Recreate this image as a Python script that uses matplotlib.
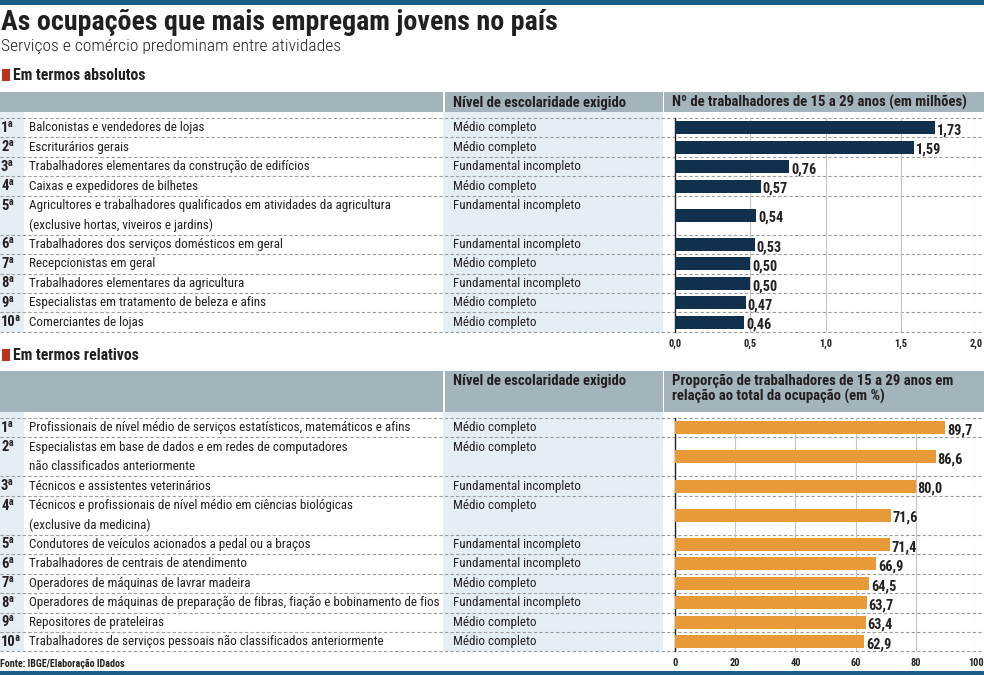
import matplotlib
matplotlib.use('Agg')
import matplotlib.pyplot as plt
from matplotlib import font_manager
from matplotlib.patches import Rectangle

# ---- dados ----
abs_rank = ['1ª', '2ª', '3ª', '4ª', '5ª', '6ª', '7ª', '8ª', '9ª', '10ª']
abs_ocup = [
    'Balconistas e vendedores de lojas',
    'Escriturários gerais',
    'Trabalhadores elementares da construção de edifícios',
    'Caixas e expedidores de bilhetes',
    'Agricultores e trabalhadores qualificados em atividades da agricultura\n(exclusive hortas, viveiros e jardins)',
    'Trabalhadores dos serviços domésticos em geral',
    'Recepcionistas em geral',
    'Trabalhadores elementares da agricultura',
    'Especialistas em tratamento de beleza e afins',
    'Comerciantes de lojas',
]
abs_nivel = ['Médio completo', 'Médio completo', 'Fundamental incompleto', 'Médio completo',
             'Fundamental incompleto', 'Fundamental incompleto', 'Médio completo',
             'Fundamental incompleto', 'Médio completo', 'Médio completo']
abs_valor = [1.73, 1.59, 0.76, 0.57, 0.54, 0.53, 0.50, 0.50, 0.47, 0.46]
abs_ticks = [0, 0.5, 1.0, 1.5, 2.0]
abs_ticklabels = ['0,0', '0,5', '1,0', '1,5', '2,0']

rel_rank = abs_rank
rel_ocup = [
    'Profissionais de nível médio de serviços estatísticos, matemáticos e afins',
    'Especialistas em base de dados e em redes de computadores\nnão classificados anteriormente',
    'Técnicos e assistentes veterinários',
    'Técnicos e profissionais de nível médio em ciências biológicas\n(exclusive da medicina)',
    'Condutores de veículos acionados a pedal ou a braços',
    'Trabalhadores de centrais de atendimento',
    'Operadores de máquinas de lavrar madeira',
    'Operadores de máquinas de preparação de fibras, fiação e bobinamento de fios',
    'Repositores de prateleiras',
    'Trabalhadores de serviços pessoais não classificados anteriormente',
]
rel_nivel = ['Médio completo', 'Médio completo', 'Fundamental incompleto', 'Médio completo',
             'Fundamental incompleto', 'Fundamental incompleto', 'Médio completo',
             'Fundamental incompleto', 'Médio completo', 'Médio completo']
rel_valor = [89.7, 86.6, 80.0, 71.6, 71.4, 66.9, 64.5, 63.7, 63.4, 62.9]
rel_ticks = [0, 20, 40, 60, 80, 100]
rel_ticklabels = ['0', '20', '40', '60', '80', '100']

# ---- fonte condensada ----
nomes = {f.name for f in font_manager.fontManager.ttflist}
FONTE, ESTICA = 'DejaVu Sans', 'condensed'
for cand in ['Roboto Condensed', 'Liberation Sans Narrow', 'Open Sans Condensed']:
    if cand in nomes:
        FONTE, ESTICA = cand, 'normal'
        break
plt.rcParams['font.family'] = FONTE
plt.rcParams['font.stretch'] = ESTICA

AZUL_TOPO = '#1c5d87'
CINZA_CAB = '#a3b4bc'
AZUL_CLARO = '#e6eef5'
NAVY = '#10304d'
LARANJA = '#e99a38'
VERMELHO = '#b9321f'
TXT = '#231f20'
FS = 9.4     # texto das linhas
FS_CAB = 10.6

W, H = 984, 675
fig = plt.figure(figsize=(W / 100, H / 100), dpi=100)
bg = fig.add_axes([0, 0, 1, 1])
bg.set_xlim(0, W)
bg.set_ylim(H, 0)
bg.axis('off')

# faixas azuis
bg.add_patch(Rectangle((0, 0), W, 5, color=AZUL_TOPO, lw=0))
bg.add_patch(Rectangle((0, 671), W, 4, color=AZUL_TOPO, lw=0))

bg.text(1, 23, 'As ocupações que mais empregam jovens no país', fontsize=20.2,
        fontweight='heavy', color=TXT, va='center', ha='left')
bg.text(1, 46, 'Serviços e comércio predominam entre atividades', fontsize=12.6,
        fontweight='light', color=TXT, va='center', ha='left')

LH = 19.45  # altura de uma linha da tabela


def tabela(y_sec, y_cab, h_cab, cab2, rank, ocup, nivel, valor, ticks, ticklabels,
           cor, fmt, secao):
    # título da seção
    bg.add_patch(Rectangle((2, y_sec - 6), 8, 12, color=VERMELHO, lw=0))
    bg.text(13, y_sec, secao, fontsize=11.3, fontweight='bold', color=TXT, va='center')

    # cabeçalho
    bg.add_patch(Rectangle((0, y_cab), 443, h_cab, color=CINZA_CAB, lw=0))
    bg.add_patch(Rectangle((444.5, y_cab), 218, h_cab, color=CINZA_CAB, lw=0))
    bg.add_patch(Rectangle((664, y_cab), W - 664, h_cab, color=CINZA_CAB, lw=0))
    ty = y_cab + 10.5
    bg.text(453, ty, 'Nível de escolaridade exigido', fontsize=FS_CAB, fontweight='bold',
            color=TXT, va='center')
    for i, linha in enumerate(cab2):
        bg.text(672, ty + i * 14.5, linha, fontsize=FS_CAB, fontweight='bold', color=TXT,
                va='center')

    # linhas
    top = y_cab + h_cab + 6
    nlin = [o.count('\n') + 1 for o in ocup]
    total = sum(nlin)
    bottom = top + total * LH
    bg.add_patch(Rectangle((0, y_cab + h_cab), 24, bottom - y_cab - h_cab,
                           color=AZUL_CLARO, lw=0, zorder=0))
    bg.add_patch(Rectangle((443, y_cab + h_cab), 220, bottom - y_cab - h_cab,
                           color=AZUL_CLARO, lw=0, zorder=0))
    y = top
    centros = []
    for r, o, nv, n in zip(rank, ocup, nivel, nlin):
        bg.plot([0, W], [y, y], color='#9c9c9c', lw=0.8, ls=(0, (3, 2)), zorder=1)
        bg.text(1, y + LH / 2, r, fontsize=10.5, fontweight='bold', color=TXT, va='center')
        for k, l in enumerate(o.split('\n')):
            bg.text(29, y + LH / 2 + k * LH, l, fontsize=FS, color=TXT, va='center')
        bg.text(453, y + LH / 2, nv, fontsize=FS, color=TXT, va='center')
        centros.append((y - top) / LH + n / 2)
        y += n * LH
    bg.plot([0, W], [y, y], color='#9c9c9c', lw=0.8, ls=(0, (3, 2)), zorder=1)

    # barras
    ax = fig.add_axes([675 / W, 1 - bottom / H, 301 / W, (bottom - top) / H])
    ax.set_facecolor('none')
    ax.barh(centros, valor, height=0.67, color=cor, zorder=3)
    ax.set_ylim(total, 0)
    ax.set_xlim(ticks[0], ticks[-1])
    ax.set_xticks(ticks)
    ax.set_xticklabels(ticklabels, fontsize=7.5, fontweight='bold', color=TXT)
    ax.set_yticks([])
    ax.tick_params(axis='x', length=0, pad=5)
    ax.grid(axis='x', color='#c4c4c4', lw=0.8)
    ax.set_axisbelow(True)
    for s in ['top', 'right', 'bottom']:
        ax.spines[s].set_visible(False)
    ax.spines['left'].set_color('#222222')
    ax.spines['left'].set_linewidth(1.0)
    span = ticks[-1] - ticks[0]
    for c, v in zip(centros, valor):
        ax.text(v + span * 0.006, c + 0.14, fmt(v), fontsize=10.3, fontweight='bold',
                color=TXT, va='center', ha='left')


tabela(75, 92, 20, ['Nº de trabalhadores de 15 a 29 anos (em milhões)'],
       abs_rank, abs_ocup, abs_nivel, abs_valor, abs_ticks, abs_ticklabels,
       NAVY, lambda v: f'{v:.2f}'.replace('.', ','), 'Em termos absolutos')

tabela(355, 371, 41, ['Proporção de trabalhadores de 15 a 29 anos em',
                      'relação ao total da ocupação (em %)'],
       rel_rank, rel_ocup, rel_nivel, rel_valor, rel_ticks, rel_ticklabels,
       LARANJA, lambda v: f'{v:.1f}'.replace('.', ','), 'Em termos relativos')

bg.text(0, 664, 'Fonte: IBGE/Elaboração IDados', fontsize=7.2, fontweight='bold',
        color=TXT, va='center')

fig.savefig('out.png', dpi=100)
